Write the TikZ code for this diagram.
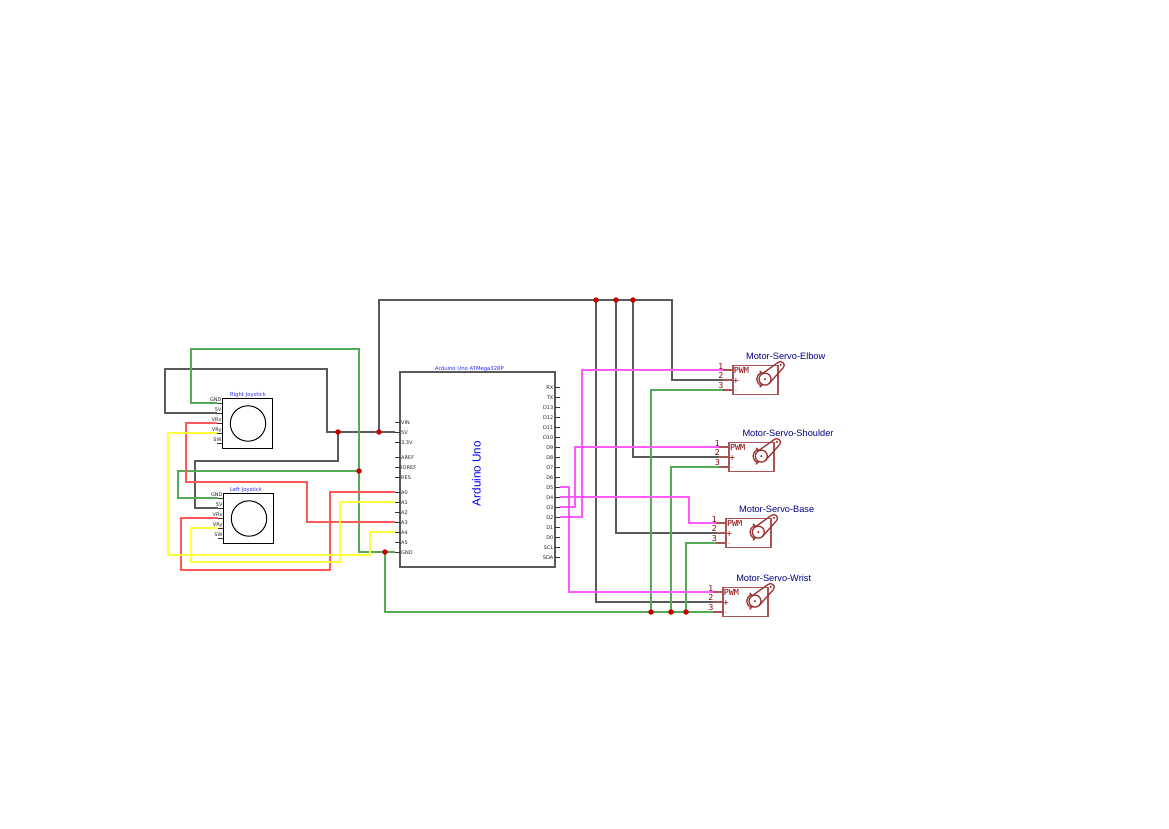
\documentclass[tikz,border=0pt]{standalone}
\usepackage{fontspec}
\setmainfont{DejaVu Sans}
\newfontfamily\arialfont{Liberation Sans}
\newfontfamily\monofont{DejaVu Sans Mono}
\definecolor{wgreen}{RGB}{85,170,85}
\definecolor{wred}{RGB}{255,90,90}
\definecolor{wyellow}{RGB}{255,255,60}
\definecolor{wmag}{RGB}{255,90,255}
\definecolor{wblack}{RGB}{90,90,90}
\definecolor{sred}{RGB}{132,0,0}
\definecolor{sbox}{RGB}{170,85,85}
\definecolor{title}{RGB}{0,0,132}
\definecolor{jred}{RGB}{200,0,0}
\tikzset{
  x=1pt,y=-1pt,
  wire/.style={line width=1.8pt,line join=miter},
  gw/.style={wire,wgreen},
  kw/.style={wire,wblack},
  rw/.style={wire,wred},
  yw/.style={wire,wyellow},
  mw/.style={wire,wmag},
  junc/.style={circle,fill=jred,inner sep=0pt,minimum size=5.5pt},
  pinline/.style={line width=1pt,black!80},
  pinlabel/.style={inner sep=0pt,font=\fontsize{5}{6}\selectfont,black!85},
  boxtitle/.style={inner sep=0pt,font=\fontsize{5.3}{6}\selectfont,blue!85},
  jbox/.style={draw=black,line width=1pt,minimum size=50pt,inner sep=0pt},
  srv/.style={line width=1.7pt,sbox},
  srvicon/.style={line width=1.3pt,sred!80},
  srvtitle/.style={inner sep=0pt,font=\arialfont\fontsize{9.25}{11}\selectfont,title},
  srvnum/.style={inner sep=0pt,font=\fontsize{8}{9}\selectfont,sred},
  servo/.pic={
    \draw[srv] (0,0) rectangle (45.3,29);
    \coordinate (-p1) at (-9.7,4.5);
    \coordinate (-p2) at (-9.7,14.5);
    \coordinate (-p3) at (-9.7,24.5);
    \draw[srv] (-p1) -- (0,4.5);
    \draw[srv] (-p2) -- (0,14.5);
    \draw[srv] (-p3) -- (0,24.5);
    \node[srvnum] at (-11.7,0.7) {1};
    \node[srvnum] at (-11.7,10.5) {2};
    \node[srvnum] at (-11.7,20.2) {3};
    \node[inner sep=0pt,anchor=west,font=\monofont\fontsize{8.4}{9}\selectfont,sred] at (0.9,5.3) {PWM};
    \node[inner sep=0pt,font=\fontsize{8}{8}\selectfont,sred] at (3.3,15.6) {+};
    \node[inner sep=0pt,font=\fontsize{5}{6}\selectfont,sred] at (3.3,26) {-};
    \draw[srvicon] (32.3,13.6) circle (6);
    \fill[sred] (32.3,13.6) circle (1);
    \draw[srvicon] (28.3,9.1) -- (45.2,-3) .. controls (48.5,-6) and (53.6,-1.2) .. (50.8,1.9) -- (36.3,18.1);
    \fill[sred] (48,-0.6) circle (1);
    \draw[srvicon] (28.5,7.0) .. controls (22.5,10.6) and (22.5,16.6) .. (28.5,20.2);
    \draw[srvicon] (27,5.4) -- (30,8.4);
    \draw[srvicon] (27,21.8) -- (30,18.8);
  }
}
\begin{document}
\begin{tikzpicture}
\useasboundingbox (0,0) rectangle (1169,828);
\fill[white] (0,0) rectangle (1169,828);

% Arduino
\node[draw=wblack,line width=1.8pt,minimum width=155pt,minimum height=195pt,inner sep=0pt] (uno) at (477.5,469.5) {};
\node[boxtitle,anchor=base] (unotitle) at (469.5,370) {Arduino Uno ATMega328P};
\node[rotate=90,inner sep=0pt,font=\arialfont\fontsize{11.7}{13}\selectfont,blue] (unolabel) at (476.5,473.5) {Arduino Uno};
\foreach \n/\y/\t in {VIN/422/VIN,V5/432/5V,V3/442/3.3V,AREF/457/AREF,IOREF/467/IOREF,RES/477/RES,A0/492/A0,A1/502/A1,A2/512/A2,A3/522/A3,A4/532/A4,A5/542/A5,GND/552/GND}{
  \coordinate (ar\n) at (395,\y);
  \draw[pinline] (ar\n) -- (400,\y);
  \node[pinlabel,anchor=west] at (401,\y+.7) {\t};
}
\foreach \n/\y in {RX/387,TX/397,D13/407,D12/417,D11/427,D10/437,D9/447,D8/457,D7/467,D6/477,D5/487,D4/497,D3/507,D2/517,D1/527,D0/537,SCL/547,SDA/557}{
  \coordinate (ar\n) at (560,\y);
  \draw[pinline] (ar\n) -- (555,\y);
  \node[pinlabel,anchor=east] at (553.5,\y+.7) {\n};
}

% Joysticks
\node[jbox] (rj) at (247.3,423) {};
\node[draw=black,line width=1pt,circle,minimum size=35.4pt,inner sep=0pt] (rjc) at (248,423.5) {};
\node[boxtitle,anchor=base] (rjt) at (248,396) {Right Joystick};
\foreach \n/\y/\t in {GND/403/GND,V5/413/5V,VRx/423/VRx,VRy/433/VRy,SW/443/SW}{
  \coordinate (rj\n) at (217,\y);
  \draw[pinline] (rj\n) -- (222.3,\y);
  \node[pinlabel,anchor=east] at (221.7,\y-3.2) {\t};
}
\node[jbox] (lj) at (248.3,518.3) {};
\node[draw=black,line width=1pt,circle,minimum size=35.4pt,inner sep=0pt] (ljc) at (249,518.5) {};
\node[boxtitle,anchor=base] (ljt) at (246,491.3) {Left Joystick};
\foreach \n/\y/\t in {GND/498/GND,V5/508/5V,VRx/518/VRx,VRy/528/VRy,SW/538/SW}{
  \coordinate (lj\n) at (218,\y);
  \draw[pinline] (lj\n) -- (223.3,\y);
  \node[pinlabel,anchor=east] at (222.7,\y-3.2) {\t};
}

% Servos
\pic (elbow) at (732.7,365.5) {servo};
\pic (shoulder) at (729,442.5) {servo};
\pic (base) at (726,518.5) {servo};
\pic (wrist) at (722.7,587.5) {servo};
\node[srvtitle] (te) at (785.7,356) {Motor-Servo-Elbow};
\node[srvtitle] (ts) at (788,433) {Motor-Servo-Shoulder};
\node[srvtitle] (tb) at (776.7,509) {Motor-Servo-Base};
\node[srvtitle] (tw) at (773.7,578) {Motor-Servo-Wrist};

% junctions
\coordinate (jA) at (338,432);
\coordinate (jB) at (379,432);
\coordinate (jC) at (359,471);
\coordinate (jD) at (385,552);
\coordinate (jE) at (596,300);
\coordinate (jF) at (616,300);
\coordinate (jG) at (633,300);
\coordinate (jH) at (651,612);
\coordinate (jI) at (671,612);
\coordinate (jJ) at (686,612);

% black
\draw[kw] (rjV5) -| (165,369) -| (327,432) -- (arV5);
\draw[kw] (jA) |- (195,461) |- (ljV5);
\draw[kw] (jB) |- (jG) -| (672,380) -- (elbow-p2);
\draw[kw] (jE) |- (wrist-p2);
\draw[kw] (jF) |- (base-p2);
\draw[kw] (jG) |- (shoulder-p2);

% green
\draw[gw] (rjGND) -| (191,349) -| (359,552) -- (arGND);
\draw[gw] (jC) -| (178,498) -- (ljGND);
\draw[gw] (jD) |- (wrist-p3);
\draw[gw] (jH) |- (elbow-p3);
\draw[gw] (jI) |- (shoulder-p3);
\draw[gw] (jJ) |- (base-p3);

% red
\draw[rw] (rjVRx) -| (186,482) -| (307,522) -- (arA3);
\draw[rw] (ljVRx) -| (181,570) -| (330,492) -- (arA0);

% yellow
\draw[yw] (rjVRy) -| (168,555) -| (370,532) -- (arA4);
\draw[yw] (ljVRy) -| (191,562) -| (340,502) -- (arA1);

% magenta
\draw[mw] (arD2) -| (582,370) -- (elbow-p1);
\draw[mw] (arD3) -| (575,447) -- (shoulder-p1);
\draw[mw] (arD4) -| (689,523) -- (base-p1);
\draw[mw] (arD5) -| (569,592) -- (wrist-p1);

\foreach \j in {jA,jB,jC,jD,jE,jF,jG,jH,jI,jJ}{\node[junc] at (\j) {};}
\end{tikzpicture}
\end{document}
